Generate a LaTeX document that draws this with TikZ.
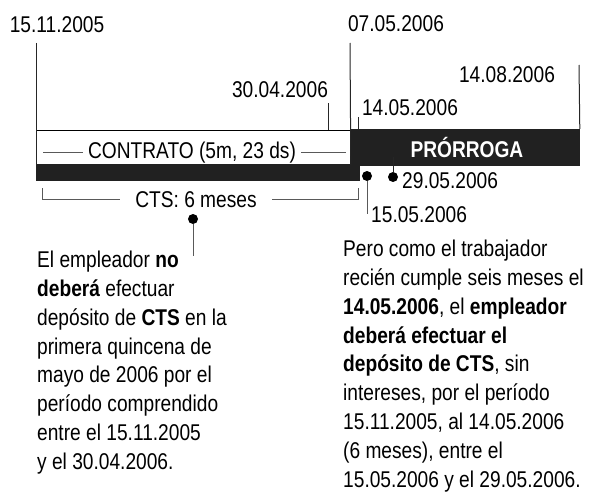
\documentclass[tikz,border=0pt]{standalone}
\usepackage{fontspec}
\setmainfont{Liberation Sans}[FakeStretch=0.84]
\usetikzlibrary{positioning, calc}

\begin{document}
\begin{tikzpicture}[
		x=1pt, y=-1pt,
		every node/.style={font=\fontsize{22.8}{28.8}\selectfont},
		% Styles for the date labels and their ticks
		datelabel/.style={inner sep=0pt, anchor=base},
		tick/.style={line width=1pt, black!85},
		guide/.style={line width=1pt, black!65},
		% Styles for the time bars
		periodbox/.style={
			anchor=north west, inner sep=0pt, line width=0.8pt
		},
		darkbar/.style={periodbox, fill=black!87, draw=black!87},
		dot/.style={circle, fill=black, inner sep=0pt, minimum size=10pt},
		% Style for the explanation texts
		note/.style={inner sep=0pt, anchor=north west, align=left}
		]
		
		\useasboundingbox (0,0) rectangle (593,492);
		
		% ==========================================
		% 1. THE BARS: Contract, CTS and extension
		% ==========================================
		\node[periodbox, draw=black, minimum width=314pt, minimum height=34pt] (contrato) at (36,130) {};
		\node[darkbar, minimum width=323pt, minimum height=16pt] (ctsbar) at (36,164) {};
		\node[darkbar, minimum width=229pt, minimum height=36pt] (prorroga) at (350,129) {};
		\node[text=white, font=\fontsize{22.8}{28.8}\selectfont\bfseries] (prorrogalabel) at ([xshift=2pt]prorroga.center) {PRÓRROGA};
		
		\node[datelabel, inner xsep=5pt] (contratolabel) at (192,158) {CONTRATO (5m, 23 ds)};
		\draw[guide] ([xshift=7pt]contrato.west |- contratolabel.west) -- (contratolabel.west);
		\draw[guide] (contratolabel.east) -- ([xshift=-5pt]contrato.east |- contratolabel.east);
		
		% ==========================================
		% 2. THE DATES above the bars
		% ==========================================
		\node[datelabel] (d1511) at (57,33) {15.11.2005};
		\coordinate (t1511) at (36,43);
		\draw[tick] (t1511) -- (contrato.south west);
		
		\node[datelabel] (d0705) at (396,32) {07.05.2006};
		\coordinate (t0705) at (350,43);
		\draw[tick] (t0705) -- (contrato.south east);
		
		\node[datelabel] (d3004) at (280,97) {30.04.2006};
		\coordinate (t3004) at (328,103);
		\draw[tick] (t3004) -- (t3004 |- contrato.north);
		
		\node[datelabel] (d1405) at (410,115) {14.05.2006};
		\coordinate (t1405) at (358,117);
		\draw[tick] (t1405) -- (t1405 |- prorroga.north);
		
		\node[datelabel] (d1408) at (507,83) {14.08.2006};
		\coordinate (t1408) at (579,65);
		\draw[tick] (t1408) -- (prorroga.north east);
		
		% ==========================================
		% 3. THE CTS BRACKET and the dates below
		% ==========================================
		\node[datelabel, inner xsep=15pt] (cts) at (196,207) {CTS: 6 meses};
		\coordinate (b1) at (42,188);
		\coordinate (b2) at (358,188);
		\draw[guide] (b1) |- (cts.west);
		\draw[guide] (b2) |- (cts.east);
		
		\node[dot] (ctsdot) at (193,219) {};
		\coordinate (ctsend) at (193,256);
		\draw[guide] (ctsdot) -- (ctsend);
		
		\node[dot] (dot1505) at (367,176) {};
		\node[datelabel, anchor=base west] (d1505) at (371,222) {15.05.2006};
		\draw[guide] (dot1505) -- (dot1505 |- d1505.west);
		
		\node[dot] (dot2905) at (393,177) {};
		\node[datelabel, anchor=base west] (d2905) at (402,188) {29.05.2006};
		\coordinate (t2905) at (393,157);
		\draw[tick] (dot2905) -- (t2905);
		
		% ==========================================
		% 4. THE NOTES
		% ==========================================
		\node[note] (leftnote) at (37,251) {
			El empleador \textbf{no}\\
			\textbf{deberá} efectuar\\
			depósito de \textbf{CTS} en la\\
			primera quincena de\\
			mayo de 2006 por el\\
			período comprendido\\
			entre el 15.11.2005\\
			y el 30.04.2006.
		};
		
		\node[note] (rightnote) at (343,240) {
			Pero como el trabajador\\
			recién cumple seis meses el\\
			\textbf{14.05.2006}, el \textbf{empleador}\\
			\textbf{deberá efectuar el}\\
			\textbf{depósito de CTS}, sin\\
			intereses, por el período\\
			15.11.2005, al 14.05.2006\\
			(6 meses), entre el\\
			15.05.2006 y el 29.05.2006.
		};
		
	\end{tikzpicture}
\end{document}
